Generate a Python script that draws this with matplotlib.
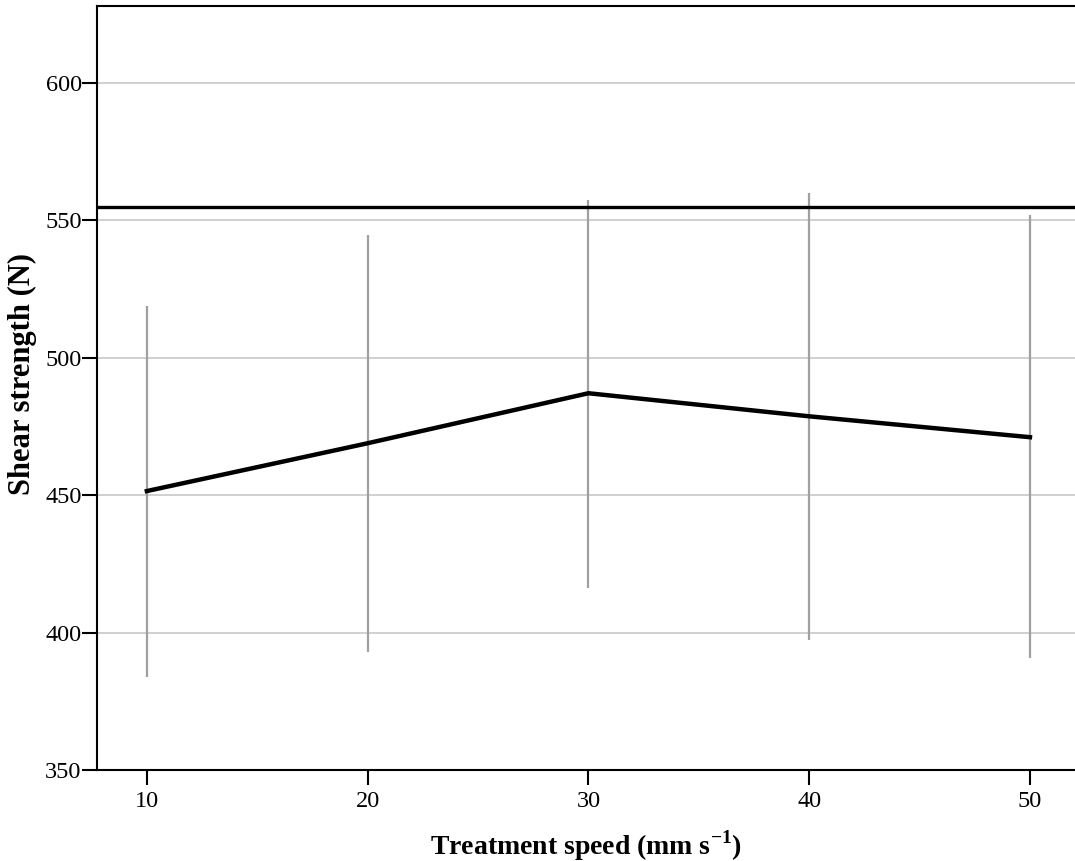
import numpy as np
import matplotlib
matplotlib.use("Agg")
import matplotlib.pyplot as plt

plt.rcParams['font.family'] = 'Liberation Serif'
plt.rcParams['mathtext.fontset'] = 'custom'
plt.rcParams['mathtext.rm'] = 'Liberation Serif:bold'
plt.rcParams['mathtext.bf'] = 'Liberation Serif:bold'

# treatment speed (mm/s) vs. mean shear strength (N) with 95% CI
speed = [10, 20, 30, 40, 50]
mean_strength = [451.5, 468.9, 487.1, 478.7, 471.1]
ci_low = [383.8, 392.9, 416.2, 397.3, 390.7]
ci_high = [518.7, 544.5, 557.3, 559.8, 551.8]
reference_strength = 554.7

fig = plt.figure(figsize=(10.75, 8.61), dpi=100)
ax = fig.add_axes([0.0902, 0.1057, 0.9098, 0.8873])

ax.set_yticks([350, 400, 450, 500, 550, 600])
ax.grid(axis='y', color='#d0d0d0', linewidth=1.4)
ax.set_axisbelow(True)

ax.vlines(speed, ci_low, ci_high, color='#a0a0a0', linewidth=1.6, zorder=2)
ax.plot(speed, mean_strength, color='black', linewidth=3.2, zorder=3)
ax.axhline(reference_strength, color='black', linewidth=2.4, zorder=3)

ax.set_xlim(7.74, 52.04)
ax.set_ylim(350, 628)
ax.set_xticks(speed)

for s in ['left', 'bottom', 'top']:
    ax.spines[s].set_linewidth(1.5)
ax.spines['right'].set_visible(False)

ax.tick_params(axis='both', direction='out', length=11, width=1.5,
               labelsize=17.5)
ax.tick_params(axis='y', pad=0)
ax.tick_params(axis='x', pad=4)

ax.set_xlabel(r'Treatment speed (mm s$^{-1}$)', fontsize=20,
              fontweight='bold', labelpad=12)
ax.set_ylabel('Shear strength (N)', fontsize=22, fontweight='bold')
ax.yaxis.set_label_coords(-0.061, 0.518)

fig.savefig('out.png', dpi=100)
